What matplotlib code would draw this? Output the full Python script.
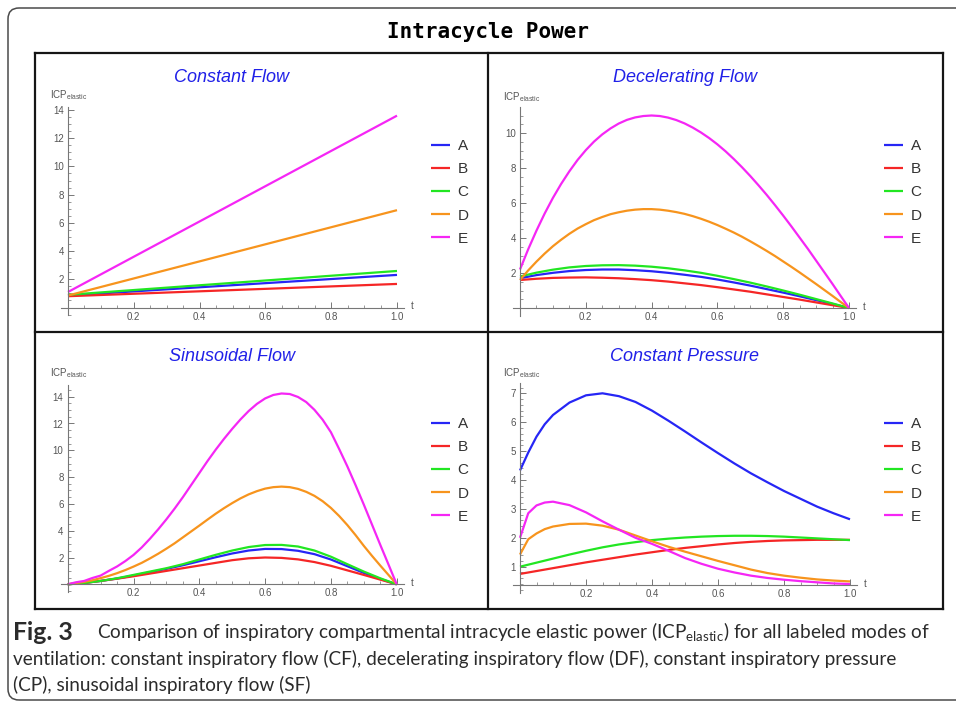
import matplotlib
matplotlib.use('Agg')
import matplotlib.pyplot as plt
from matplotlib import font_manager
from matplotlib.patches import FancyBboxPatch
from matplotlib.lines import Line2D
from matplotlib.ticker import MultipleLocator, FixedLocator
from matplotlib.transforms import IdentityTransform

plt.rcParams['font.family'] = ['Liberation Sans', 'DejaVu Sans']

# ---- data ----
labels = ['A', 'B', 'C', 'D', 'E']
colors = ['#2626f5', '#f52626', '#22e622', '#f7941d', '#f526f5']

# constant flow (straight lines)
t_cf = [0.0, 1.0]
cf_a = [0.85, 2.31]
cf_b = [0.80, 1.67]
cf_c = [0.90, 2.59]
cf_d = [0.85, 6.90]
cf_e = [1.10, 13.6]

t_coarse = [0.0, 0.05, 0.1, 0.15, 0.2, 0.25, 0.3, 0.35, 0.4, 0.45, 0.5,
            0.55, 0.6, 0.65, 0.7, 0.75, 0.8, 0.85, 0.9, 0.95, 1.0]
t_fine = [0.0, 0.025, 0.05, 0.075, 0.1, 0.125, 0.15, 0.175, 0.2, 0.225,
          0.25, 0.275, 0.3, 0.325, 0.35, 0.375, 0.4, 0.425, 0.45, 0.475,
          0.5, 0.525, 0.55, 0.575, 0.6, 0.625, 0.65, 0.675, 0.7, 0.725,
          0.75, 0.775, 0.8, 0.825, 0.85, 0.875, 0.9, 0.925, 0.95, 0.975, 1.0]

# decelerating flow (A-C on t_coarse, D-E on t_fine)
df_a = [1.7, 1.88, 2.01, 2.11, 2.17, 2.2, 2.2, 2.16, 2.1, 2.01, 1.9,
        1.78, 1.63, 1.46, 1.28, 1.08, 0.88, 0.67, 0.45, 0.23, 0.0]
df_b = [1.6, 1.67, 1.72, 1.74, 1.75, 1.73, 1.7, 1.65, 1.59, 1.51, 1.41,
        1.31, 1.19, 1.06, 0.93, 0.78, 0.63, 0.48, 0.32, 0.16, 0.0]
df_c = [1.8, 2.02, 2.19, 2.32, 2.4, 2.44, 2.45, 2.42, 2.36, 2.27, 2.15,
        2.01, 1.84, 1.65, 1.45, 1.23, 1.0, 0.76, 0.51, 0.26, 0.0]
df_d = [1.6, 2.15, 2.65, 3.11, 3.53, 3.9, 4.24, 4.54, 4.79, 5.02, 5.2,
        5.36, 5.47, 5.56, 5.62, 5.65, 5.65, 5.62, 5.56, 5.48, 5.38,
        5.25, 5.1, 4.93, 4.74, 4.53, 4.31, 4.07, 3.81, 3.54, 3.26,
        2.97, 2.66, 2.35, 2.03, 1.7, 1.37, 1.03, 0.69, 0.34, 0.0]
df_e = [2.2, 3.36, 4.42, 5.4, 6.29, 7.09, 7.81, 8.46, 9.02, 9.51, 9.92,
        10.26, 10.54, 10.75, 10.89, 10.97, 11.0, 10.97, 10.88, 10.74, 10.55,
        10.31, 10.03, 9.71, 9.35, 8.95, 8.51, 8.04, 7.54, 7.01, 6.46,
        5.88, 5.28, 4.66, 4.02, 3.38, 2.71, 2.04, 1.37, 0.68, 0.0]

# sinusoidal flow (A-C on t_coarse, D-E on t_fine)
sf_a = [0, 0.1, 0.25, 0.43, 0.65, 0.9, 1.15, 1.42, 1.72, 2.02, 2.3,
        2.52, 2.64, 2.63, 2.5, 2.25, 1.85, 1.35, 0.85, 0.4, 0]
sf_b = [0, 0.1, 0.25, 0.42, 0.6, 0.8, 1.0, 1.2, 1.4, 1.6, 1.8,
        1.94, 2.0, 1.97, 1.86, 1.66, 1.38, 1.04, 0.7, 0.35, 0]
sf_c = [0, 0.1, 0.25, 0.45, 0.7, 0.95, 1.2, 1.5, 1.85, 2.2, 2.52,
        2.78, 2.93, 2.94, 2.82, 2.52, 2.06, 1.5, 0.95, 0.45, 0]
sf_d = [0, 0.09, 0.18, 0.3, 0.46, 0.63, 0.83, 1.06, 1.32, 1.6, 1.93,
        2.28, 2.66, 3.06, 3.5, 3.94, 4.38, 4.83, 5.27, 5.68, 6.06,
        6.41, 6.71, 6.95, 7.14, 7.25, 7.29, 7.25, 7.12, 6.9, 6.6,
        6.2, 5.7, 5.1, 4.42, 3.67, 2.87, 2.12, 1.4, 0.7, 0]
sf_e = [0, 0.15, 0.25, 0.47, 0.65, 1.0, 1.33, 1.73, 2.19, 2.75, 3.4,
        4.1, 4.85, 5.65, 6.5, 7.4, 8.3, 9.2, 10.05, 10.85, 11.6,
        12.3, 12.93, 13.46, 13.87, 14.13, 14.24, 14.2, 13.98, 13.6, 13.02,
        12.28, 11.35, 10.1, 8.8, 7.4, 5.95, 4.45, 2.95, 1.48, 0]

# constant pressure
t_cp = [0.0, 0.025, 0.05, 0.075, 0.1, 0.15, 0.2, 0.25, 0.3, 0.35, 0.4, 0.45,
        0.5, 0.55, 0.6, 0.65, 0.7, 0.75, 0.8, 0.85, 0.9, 0.95, 1.0]
cp_a = [4.33, 4.95, 5.5, 5.93, 6.25, 6.68, 6.93, 7.0, 6.9, 6.7, 6.4, 6.05,
        5.68, 5.3, 4.93, 4.57, 4.23, 3.92, 3.62, 3.35, 3.08, 2.85, 2.64]
cp_b = [0.75, 0.8, 0.85, 0.9, 0.95, 1.05, 1.15, 1.24, 1.33, 1.42, 1.5, 1.58,
        1.65, 1.71, 1.77, 1.82, 1.86, 1.89, 1.91, 1.92, 1.93, 1.93, 1.93]
cp_c = [1.0, 1.07, 1.14, 1.21, 1.28, 1.42, 1.55, 1.67, 1.77, 1.85, 1.92, 1.97,
        2.01, 2.04, 2.06, 2.07, 2.07, 2.06, 2.04, 2.01, 1.98, 1.95, 1.92]
cp_d = [1.42, 1.95, 2.15, 2.3, 2.39, 2.48, 2.49, 2.42, 2.28, 2.08, 1.88, 1.69,
        1.52, 1.36, 1.2, 1.05, 0.9, 0.78, 0.69, 0.62, 0.56, 0.52, 0.49]
cp_e = [2.0, 2.85, 3.12, 3.22, 3.25, 3.13, 2.88, 2.57, 2.28, 2.0, 1.79, 1.55,
        1.3, 1.1, 0.93, 0.8, 0.69, 0.61, 0.55, 0.5, 0.46, 0.42, 0.4]

cf_ticks = [2, 4, 6, 8, 10, 12, 14]
df_ticks = [2, 4, 6, 8, 10]
sf_ticks = [2, 4, 6, 8, 10, 12, 14]
cp_ticks = [1, 2, 3, 4, 5, 6, 7]
x_ticks = [0.2, 0.4, 0.6, 0.8, 1.0]

W, H = 956, 702
fig = plt.figure(figsize=(W / 100, H / 100), dpi=100)


def fx(x):
    return x / W


def fy(y):
    return 1 - y / H


# rounded outer frame (pixel coords, origin bottom-left)
frame = FancyBboxPatch((8, 2), 1000, 692, boxstyle='round,pad=0,rounding_size=11',
                       transform=IdentityTransform(), fill=False, ec='#4a4a4a', lw=1.1)
fig.add_artist(frame)

fig.text(fx(488), fy(32), 'Intracycle Power', family='DejaVu Sans Mono',
         weight='bold', size=15, ha='center', va='center')

# table lines
for xs, ys in [([35, 943], [53, 53]), ([35, 943], [609, 609]), ([35, 35], [53, 609]),
               ([943, 943], [53, 609]), ([488, 488], [53, 609]), ([35, 943], [332, 332])]:
    fig.add_artist(Line2D([fx(v) for v in xs], [fy(v) for v in ys],
                          transform=fig.transFigure, color='#151515', lw=1.6))


def panel(ts, series, title, t0, t1, pya, va, pyb, vb, top, bot, axis_val,
          yticks, yminor, title_xy, icp_xy, leg_xy):
    ppu = (pya - pyb) / (vb - va)
    left, right = t0 - 7, t1 + 7
    ax = fig.add_axes([fx(left), fy(bot), (right - left) / W, (bot - top) / H])
    ax.set_facecolor('none')
    ax.set_xlim(-7 / (t1 - t0), 1 + 7 / (t1 - t0))
    ax.set_ylim(va - (bot - pya) / ppu, va + (pya - top) / ppu)
    for t, ys, lab, col in zip(ts, series, labels, colors):
        ax.plot(t, ys, color=col, lw=1.6, label=lab, solid_capstyle='butt')
    for s in ['top', 'right']:
        ax.spines[s].set_visible(False)
    ax.spines['left'].set_position(('data', 0))
    ax.spines['bottom'].set_position(('data', axis_val))
    for s in ['left', 'bottom']:
        ax.spines[s].set_color('#777777')
        ax.spines[s].set_linewidth(0.8)
    ax.xaxis.set_major_locator(FixedLocator(x_ticks))
    ax.xaxis.set_minor_locator(MultipleLocator(0.05))
    ax.yaxis.set_major_locator(FixedLocator(yticks))
    ax.yaxis.set_minor_locator(MultipleLocator(yminor))
    ax.set_xticklabels(['0.2', '0.4', '0.6', '0.8', '1.0'])
    ax.tick_params(which='major', direction='in', length=4, width=0.7, color='#777777',
                   labelsize=7, labelcolor='#555555', pad=3)
    ax.tick_params(which='minor', direction='in', length=2, width=0.6, color='#888888')
    ax.annotate('t', xy=(1, axis_val), xycoords=('axes fraction', 'data'),
                xytext=(5, 1), textcoords='offset points', ha='left', va='center',
                fontsize=7, color='#555555')
    fig.text(fx(title_xy[0]), fy(title_xy[1]), title, style='italic', color='#2020e8',
             fontsize=13, ha='center', va='center')
    fig.text(fx(icp_xy[0]), fy(icp_xy[1]), r'ICP$_{\mathregular{elastic}}$',
             fontsize=7, color='#555555', ha='left', va='center')
    ax.legend(loc='upper left', bbox_to_anchor=(fx(leg_xy[0]), fy(leg_xy[1])),
              bbox_transform=fig.transFigure, frameon=False, borderpad=0,
              borderaxespad=0, handlelength=1.25, handletextpad=0.5,
              labelspacing=0.6, fontsize=11, labelcolor='#333333')
    return ax


panel([t_cf] * 5, [cf_a, cf_b, cf_c, cf_d, cf_e], 'Constant Flow',
      68, 397, 307.5, 0, 110, 14, 107, 315, 0, cf_ticks, 0.5,
      (232, 78), (50, 95), (431, 139))
panel([t_coarse] * 3 + [t_fine] * 2, [df_a, df_b, df_c, df_d, df_e], 'Decelerating Flow',
      520, 849, 308, 0, 133, 10, 107, 316, 0, df_ticks, 0.5,
      (685, 78), (503, 97), (884, 139))
panel([t_coarse] * 3 + [t_fine] * 2, [sf_a, sf_b, sf_c, sf_d, sf_e], 'Sinusoidal Flow',
      67.7, 396.7, 584.3, 0, 396.7, 14, 385, 592, 0, sf_ticks, 0.5,
      (232, 356), (50, 373), (431, 417))
panel([t_cp] * 5, [cp_a, cp_b, cp_c, cp_d, cp_e], 'Constant Pressure',
      520, 850, 566.7, 1, 393.3, 7, 383, 593, 0.37, cp_ticks, 0.2,
      (685, 356), (503, 373), (884, 417))

# caption, font size fitted to the reference line widths
names = {f.name for f in font_manager.fontManager.ttflist}
cap_font = 'Liberation Sans Narrow' if 'Liberation Sans Narrow' in names else 'Lato'
cap_col = '#2b2b2b'
fig_lbl = fig.text(fx(13), fy(632), 'Fig. 3', family=cap_font, weight='bold', size=14,
                   color=cap_col, ha='left', va='center')
line1 = fig.text(fx(97), fy(632), 'Comparison of inspiratory compartmental intracycle '
                 r'elastic power (ICP$_{\mathregular{elastic}}$) for all labeled modes of',
                 family=cap_font, size=14, color=cap_col, ha='left', va='center')
line2 = fig.text(fx(13), fy(659), 'ventilation: constant inspiratory flow (CF), decelerating '
                 'inspiratory flow (DF), constant inspiratory pressure',
                 family=cap_font, size=14, color=cap_col, ha='left', va='center')
line3 = fig.text(fx(13), fy(685), '(CP), sinusoidal inspiratory flow (SF)',
                 family=cap_font, size=14, color=cap_col, ha='left', va='center')

renderer = fig.canvas.get_renderer()
total = sum(txt.get_window_extent(renderer).width for txt in (line1, line2, line3))
size = 14 * (845 + 860 + 317) / total
for txt in (line1, line2, line3):
    txt.set_fontsize(size)
wf = fig_lbl.get_window_extent(renderer).width
fig_lbl.set_fontsize(14 * 60 / wf)

fig.savefig('out.png', dpi=100)
